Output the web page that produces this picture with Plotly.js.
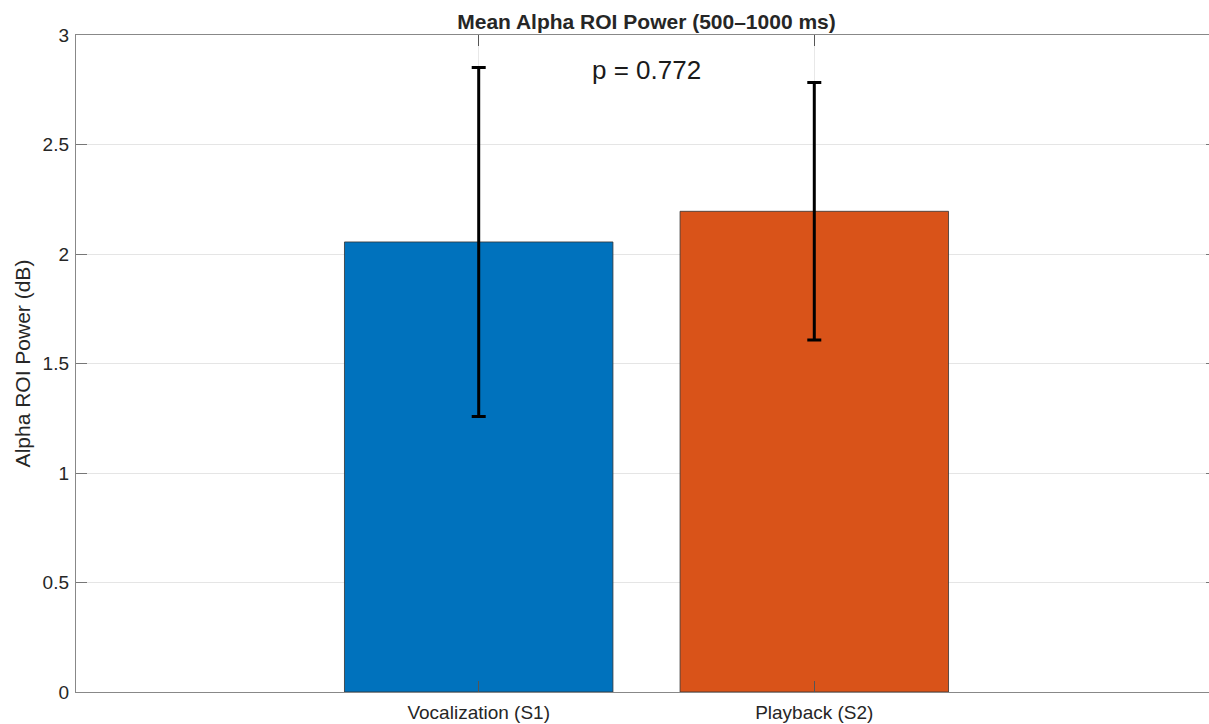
<!DOCTYPE html>
<html>
<head>
<meta charset="utf-8">
<script src="https://cdn.plot.ly/plotly-3.0.1.min.js"></script>
<style>html,body{margin:0;padding:0;background:#fff;overflow:hidden;}#chart{width:1222px;height:724px;}</style>
</head>
<body>
<div id="chart"></div>
<script>
const categories = ['Vocalization (S1)', 'Playback (S2)'];
const meanPower = [2.055, 2.195];
const errPower = [0.797, 0.588];
const barColors = ['#0072BD', '#D95319'];
const pText = 'p = 0.772';
const pY = 2.84;
const yTicks = [0, 0.5, 1, 1.5, 2, 2.5, 3];
const yTickText = ['0', '0.5', '1', '1.5', '2', '2.5', '3'];

const font = 'Liberation Sans, Arial, Helvetica, sans-serif';

const trace = {
  type: 'bar',
  x: categories,
  y: meanPower,
  marker: { color: barColors, line: { color: '#333333', width: 0.8 } },
  error_y: { type: 'data', array: errPower, visible: true, color: '#000000', thickness: 3, width: 7 },
  hoverinfo: 'x+y'
};

const layout = {
  width: 1222, height: 724,
  margin: { l: 76, r: 5, t: 35, b: 32 },
  paper_bgcolor: '#ffffff', plot_bgcolor: '#ffffff',
  bargap: 0.2,
  showlegend: false,
  font: { family: font, color: '#262626', size: 19 },
  title: {
    text: 'Mean Alpha ROI Power (500–1000 ms)',
    font: { family: font, size: 21, weight: 'bold', color: '#262626' },
    x: 0.5, xref: 'paper', xanchor: 'center',
    y: 1 - 22 / 724, yref: 'container', yanchor: 'middle'
  },
  xaxis: {
    type: 'category',
    range: [-1.2, 2.2],
    showline: true, linecolor: '#888888', linewidth: 1.2,
    mirror: 'ticks', ticks: 'inside', ticklen: 11, tickcolor: '#555555', tickwidth: 1,
    ticklabelstandoff: 3,
    showgrid: true, gridcolor: '#e8e8e8', gridwidth: 1,
    zeroline: false,
    tickfont: { family: font, size: 19, color: '#262626' },
    fixedrange: true
  },
  yaxis: {
    range: [0, 3],
    tickvals: yTicks, ticktext: yTickText,
    showline: true, linecolor: '#888888', linewidth: 1.2,
    mirror: 'ticks', ticks: 'inside', ticklen: 11, tickcolor: '#777777', tickwidth: 1,
    ticklabelstandoff: 2,
    showgrid: true, gridcolor: '#e5e5e5', gridwidth: 1,
    zeroline: false,
    tickfont: { family: font, size: 19, color: '#262626' },
    title: { text: 'Alpha ROI Power (dB)', font: { family: font, size: 21, color: '#262626' }, standoff: 6 },
    fixedrange: true
  },
  annotations: [{
    x: 0.5, y: pY, xref: 'x', yref: 'y',
    text: pText, showarrow: false,
    font: { family: font, size: 26, color: '#1a1a1a' },
    xanchor: 'center', yanchor: 'middle'
  }]
};

Plotly.newPlot('chart', [trace], layout, { displayModeBar: false, staticPlot: true });
</script>
</body>
</html>
